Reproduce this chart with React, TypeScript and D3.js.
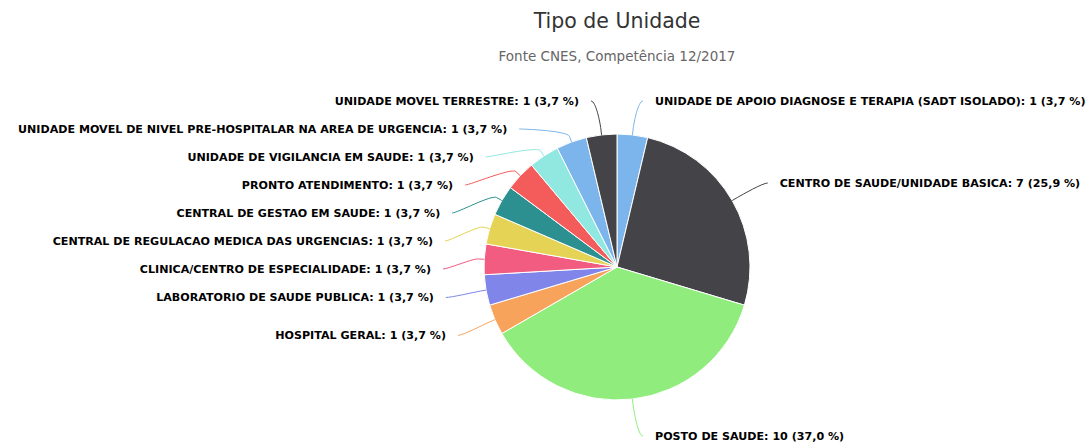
import React from "react";
import * as d3 from "d3";

// Dados: tipo de unidade (CNES 12/2017)
const categories = [
  "UNIDADE DE APOIO DIAGNOSE E TERAPIA (SADT ISOLADO)",
  "CENTRO DE SAUDE/UNIDADE BASICA",
  "POSTO DE SAUDE",
  "HOSPITAL GERAL",
  "LABORATORIO DE SAUDE PUBLICA",
  "CLINICA/CENTRO DE ESPECIALIDADE",
  "CENTRAL DE REGULACAO MEDICA DAS URGENCIAS",
  "CENTRAL DE GESTAO EM SAUDE",
  "PRONTO ATENDIMENTO",
  "UNIDADE DE VIGILANCIA EM SAUDE",
  "UNIDADE MOVEL DE NIVEL PRE-HOSPITALAR NA AREA DE URGENCIA",
  "UNIDADE MOVEL TERRESTRE",
];
const values = [1, 7, 10, 1, 1, 1, 1, 1, 1, 1, 1, 1];
const palette = [
  "#7cb5ec", "#434348", "#90ed7d", "#f7a35c", "#8085e9",
  "#f15c80", "#e4d354", "#2b908f", "#f45b5b", "#91e8e1",
];

const width = 1091;
const height = 443;
const cx = 617; // centro da pizza
const cy = 267;
const radius = 133;
const labelRadius = 170; // posição natural dos rótulos
const labelShift = 1;
const xRadius = 163; // usado para o x dos rótulos
const labelStep = 28; // altura de cada rótulo
const minY = 101;
const maxY = 436;

// distribui rótulos sem sobreposição (agrupa caixas que colidem)
function distribute(targets: number[], size: number, min: number, max: number) {
  type Box = { idx: number[]; pos: number };
  const boxes: Box[] = targets.map((t, i) => ({ idx: [i], pos: t }));
  const place = (b: Box) => {
    const n = b.idx.length;
    const mean = d3.mean(b.idx, (id, k) => targets[id] - k * size) as number;
    b.pos = Math.max(min, Math.min(max - (n - 1) * size, mean));
  };
  boxes.forEach(place);
  let merged = true;
  while (merged) {
    merged = false;
    for (let i = 0; i < boxes.length - 1; i++) {
      const a = boxes[i];
      const b = boxes[i + 1];
      if (a.pos + a.idx.length * size > b.pos) {
        a.idx = a.idx.concat(b.idx);
        boxes.splice(i + 1, 1);
        place(a);
        merged = true;
        break;
      }
    }
  }
  const out: number[] = new Array(targets.length);
  boxes.forEach((b) => b.idx.forEach((id, k) => (out[id] = b.pos + k * size)));
  return out;
}

const App = () => {
  const total = d3.sum(values);
  const pie = d3.pie<number>().sort(null).value((d) => d);
  const arcs = pie(values);
  const arc = d3.arc<d3.PieArcDatum<number>>().innerRadius(0).outerRadius(radius);
  const color = (i: number) => palette[i % palette.length];

  // rótulos
  const items = arcs.map((a, i) => {
    const mid = (a.startAngle + a.endAngle) / 2;
    const right = mid < Math.PI;
    return {
      i,
      mid,
      right,
      natural: cy + labelShift - labelRadius * Math.cos(mid),
      y: 0,
    };
  });
  [true, false].forEach((side) => {
    const group = items.filter((d) => d.right === side).sort((a, b) => a.natural - b.natural);
    const ys = distribute(group.map((d) => d.natural), labelStep, minY, maxY);
    group.forEach((d, k) => (d.y = ys[k]));
  });

  const pct = (v: number) => ((v / total) * 100).toFixed(1).replace(".", ",");

  return (
    <svg
      width={width}
      height={height}
      style={{ position: "absolute", left: 0, top: 0, background: "#fff" }}
      fontFamily="'DejaVu Sans', sans-serif"
    >
      <text x={cx} y={28} textAnchor="middle" fontSize={20.5} fill="#333333">
        Tipo de Unidade
      </text>
      <text x={cx} y={61} textAnchor="middle" fontSize={13.5} fill="#666666">
        Fonte CNES, Competência 12/2017
      </text>

      <g transform={`translate(${cx},${cy})`}>
        {arcs.map((a, i) => (
          <path key={i} d={arc(a) || ""} fill={color(i)} stroke="#ffffff" strokeWidth={1} strokeLinejoin="round" />
        ))}
      </g>

      {items.map((d) => {
        const sgn = d.right ? 1 : -1;
        const dy = d.y - cy;
        const cosPart = Math.sqrt(Math.max(0, xRadius * xRadius - dy * dy));
        const xc = cx + sgn * Math.max(cosPart + 11, 26);
        const sx = Math.sin(d.mid);
        const sy = -Math.cos(d.mid);
        const touch = [cx + sx * radius, cy + sy * radius];
        const brk = [cx + sx * (radius + 6), cy + sy * (radius + 6)];
        const path = d3.path();
        path.moveTo(xc, d.y);
        path.bezierCurveTo(
          xc - sgn * 5, d.y,
          2 * brk[0] - touch[0], 2 * brk[1] - touch[1],
          brk[0], brk[1]
        );
        path.lineTo(touch[0], touch[1]);
        const v = values[d.i];
        return (
          <g key={d.i}>
            <path d={path.toString()} fill="none" stroke={color(d.i)} strokeWidth={1} />
            <text
              x={xc + sgn * 12}
              y={d.y}
              dy="0.35em"
              textAnchor={d.right ? "start" : "end"}
              fontSize={11.1}
              fontWeight="bold"
              fill="#000000"
              stroke="#ffffff"
              strokeWidth={2}
              strokeLinejoin="round"
              style={{ paintOrder: "stroke" }}
            >
              {`${categories[d.i]}: ${v} (${pct(v)} %)`}
            </text>
          </g>
        );
      })}
    </svg>
  );
};

export default App;
